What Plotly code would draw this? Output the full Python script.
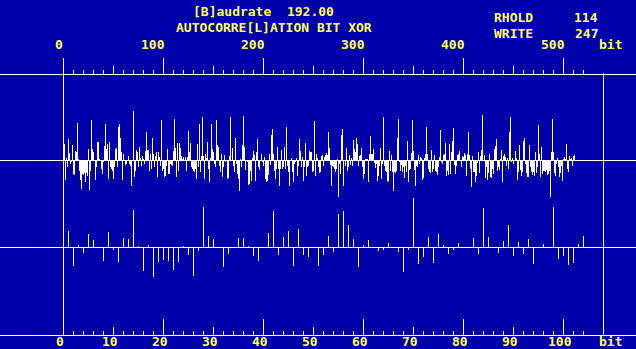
import plotly.graph_objects as go

# ---------------- data ----------------
baud_text = "[B]audrate\u00a0\u00a0192.00"
title_line = "AUTOCORRE[L]ATION BIT XOR"
rhold_value = "114"
write_value = "247"

top_tick_labels = ["0", "100", "200", "300", "400", "500"]
top_tick_values = [0, 100, 200, 300, 400, 500]
bottom_tick_labels = ["0", "10", "20", "30", "40", "50", "60", "70", "80", "90", "100"]
bottom_tick_values = [0, 10, 20, 30, 40, 50, 60, 70, 80, 90, 100]
unit_label = "bit"

# autocorrelation of the bit stream (bits 1..511)
acf_part1 = [17, -19, 3, -6, 22, 8, -3, -1, 16, -13,
             -14, 10, 9, 38, 2, -10, -19, -28, -13, -14,
             -12, -21, -12, -15, 12, -29, -10, 41, 12, 9,
             1, -19, -6, 19, 19, 2, 1, -8, -13, -1,
             15, 37, 12, 17, -18, 19, -6, -8, -10, -18,
             -6, 12, 13, -6, 34, 37, 23, 9, -19, 7,
             1, -4, -3, 0, 5, -3, -5, -25, 0, 50,
             -16, -10, 11, 9, -6, 14, 3, -5, 5, 2,
             -3, 10, 29, 11, 11, -10, 7, -8, 23, 7,
             -6, 5, 9, -16, 9, 4, -5, 41, -10, -8,
             -16, -15]
acf_part2 = [-5, 12, -13, -13, -3, -4, -5, 10, 42, 13,
             -16, 18, -10, 18, 13, 5, 2, 4, 0, 4,
             -10, 4, 30, 9, 18, -6, -8, -10, -11, -8,
             -18, 17, -6, 37, -11, 5, 44, 5, -18, 7,
             3, 19, -8, -21, 3, 37, 12, 9, -3, -6,
             41, 16, 14, -5, -11, 7, -16, -6, 6, -1,
             0, -18, -17, 5, 44, 0, 13, -5, -11, 23,
             -3, -13, -18, -30, 2, -6, 16, 45, 14, -9,
             1, -1, -24, -23, -10, -20, 3, 10, 6, -20,
             9, 22, -6, -9, 0, 7, -1, -5, 4, -18,
             -21, -20, -14]
acf_part3 = [7, -4, 26, 32, 7, -10, -18, -8, 14, -8,
             -25, -8, 11, -8, -6, 14, -8, 34, -5, -11,
             -25, 0, 3, -11, -21, -3, -1, 3, -15, -5,
             22, 10, -6, 4, -20, -6, 18, -15, -6, -5,
             10, 9, 9, -11, -10, 40, -15, 7, 3, -6,
             -12, -11, 5, 6, -5, 4, 6, 8, 6, 29,
             13, -4, -25, -5, -6, -8, -11, -8, 2, -36,
             -3, -13, 26, 32, -25, 0, -5, 13, -10, -6,
             6, -4, 3, -5, 21, 12, 9, 23, 17, -5,
             5, 6, 13, -6, -18, -13, 2, 2, 2, -21,
             7, 25, 7, 7]
acf_part4 = [12, -2, -7, -3, -20, -15, -5, 13, -18, -3,
             44, -5, -10, -11, -21, -20, 10, -10, 6, -11,
             -30, -11, -12, -10, 23, 42, -1, -10, -4, -11,
             -6, -17, -5, -11, 20, -21, -9, -8, 8, 41,
             10, -9, -25, -5, -6, 6, -3, 4, 3, -19,
             -17, 3, 7, 34, 7, -8, -11, -12, 11, -11,
             -8, 6, -10, -11, -14, -6, 4, 31, -1, -3,
             6, 7, 18, -15, -10, -14, 17, -13, 9, 20,
             33, -4, -13, -5, 6, 7, 10, 0, -6, 5,
             4, 8, 6, -15, 7, 29, 6, -8, -26, 5,
             -11, -11, -21, -15]
acf_part5 = [-2, 9, -12, 5, 11, 46, 0, 6, -17, -6,
             -19, -12, 7, -16, -17, -8, -13, 12, 15, 22,
             -10, -6, -9, 2, 11, -21, 5, 7, 4, -5,
             3, -8, 29, 44, -1, 3, -3, 0, 10, 3,
             -19, -11, 16, -9, -15, -11, 20, 23, -3, -12,
             -16, -16, 16, -6, -11, -14, -11, -15, 9, -12,
             -6, 36, 7, -16, 14, -13, -10, -10, -11, -9,
             -14, -13, -10, -36, 9, 42, 9, -12, -15, -3,
             3, -6, -16, -12, -5, -20, 2, 4, 2, 17,
             -8, -11, 5, 2, 3, -5, 5, 6]

# bit XOR correlation (bits 1..104)
xor_values = [17, -18, 3, -5, 14, 8, 1, -13, 16, -2,
              -14, 10, 9, 38, 2, -23, 3, -29, -14, -12,
              -13, -22, -14, 2, -7, -28, -3, 41, 12, 9,
              1, -19, -6, 0, 10, 10, 2, -8, -13, 1,
              15, 37, -7, 11, 17, -18, 19, -7, -9, 0,
              -18, -7, 12, -4, 34, 37, 23, 9, -19, 3,
              8, 0, -3, -2, 5, 0, -4, -24, -2, 50,
              -16, -9, 11, -15, 14, 3, -6, -2, 5, 1,
              0, 10, -6, 40, 11, 0, -5, 7, 23, -8,
              6, -6, 9, -16, 0, 4, 0, 41, -11, -8,
              -17, -15, 4, 12]

acf_values = acf_part1 + acf_part2 + acf_part3 + acf_part4 + acf_part5
acf_bits = list(range(1, len(acf_values) + 1))
xor_bits = list(range(1, len(xor_values) + 1))

top_major = list(range(0, 501, 100))
top_medium = list(range(50, 451, 100))
top_minor = list(range(10, 521, 10))
bot_major = list(range(0, 101, 20))
bot_medium = list(range(10, 91, 20))
bot_minor = list(range(2, 105, 2))
window_end_bits = 540

# ---------------- style ----------------
W, H = 636, 349
BG = "#0000AA"
FG = "#FFFFFF"
TXT = "#FFFF55"
FONT = dict(family="DejaVu Sans Mono", size=13, color=TXT, weight="bold")

X_RANGE = [-63.5, W - 63.5]
X2_RANGE = [-63.5 / 5, (W - 63.5) / 5]
TOP_LINE_Y = 73.5
BOT_LINE_Y = 334.5
MID_ZERO = 160.5
LOW_ZERO = 247.5


def pY(px):
    return 1 - px / H


fig = go.Figure()
fig.add_trace(go.Bar(x=acf_bits, y=acf_values, width=1, xaxis="x", yaxis="y",
                     marker=dict(color=FG, line=dict(width=0)), hoverinfo="skip"))
fig.add_trace(go.Bar(x=xor_bits, y=xor_values, width=0.2, xaxis="x2", yaxis="y2",
                     marker=dict(color=FG, line=dict(width=0)), hoverinfo="skip"))
# empty traces so that the scale axes get drawn
for ax in ("x3", "x4", "x5", "x6"):
    fig.add_trace(go.Scatter(x=[], y=[], xaxis=ax, yaxis="y", mode="lines",
                             hoverinfo="skip"))

hidden = dict(showgrid=False, zeroline=False, showticklabels=False, ticks="", showline=False)


def tick_axis(rng, pos, vals, ln, minor_vals=None, line=True):
    d = dict(range=rng, overlaying="x", anchor="free", position=pos, side="top",
             showline=line, linecolor=FG, linewidth=1, ticks="outside", tickmode="array",
             tickvals=vals, ticklen=ln, tickwidth=1, tickcolor=FG, showticklabels=False,
             showgrid=False, zeroline=False, fixedrange=True)
    if minor_vals is not None:
        d["minor"] = dict(tickmode="array", tickvals=minor_vals, ticks="outside", ticklen=4,
                          tickwidth=1, tickcolor=FG, showgrid=False)
    return d


fig.update_layout(
    width=W, height=H, margin=dict(l=0, r=0, t=0, b=0, pad=0),
    paper_bgcolor=BG, plot_bgcolor=BG, showlegend=False,
    barmode="overlay", bargap=0, bargroupgap=0,
    xaxis=dict(range=X_RANGE, domain=[0, 1], anchor="y", **hidden),
    xaxis2=dict(range=X2_RANGE, overlaying="x", anchor="y2", **hidden),
    xaxis3=tick_axis(X_RANGE, pY(TOP_LINE_Y), top_major, 16, top_minor),
    xaxis4=tick_axis(X_RANGE, pY(TOP_LINE_Y), top_medium, 8, line=False),
    xaxis5=tick_axis(X2_RANGE, pY(BOT_LINE_Y), bot_major, 16, bot_minor),
    xaxis6=tick_axis(X2_RANGE, pY(BOT_LINE_Y), bot_medium, 8, line=False),
    yaxis=dict(range=[MID_ZERO - H, MID_ZERO], domain=[0, 1], anchor="x",
               showgrid=False, showticklabels=False, ticks="", showline=False,
               zeroline=True, zerolinecolor=FG, zerolinewidth=1),
    yaxis2=dict(range=[LOW_ZERO - H, LOW_ZERO], overlaying="y", anchor="x",
                showgrid=False, showticklabels=False, ticks="", showline=False,
                zeroline=True, zerolinecolor=FG, zerolinewidth=1),
)

# boundary lines of the data window
for xb in (0, window_end_bits):
    fig.add_shape(type="line", xref="x", yref="paper", x0=xb, x1=xb,
                  y0=pY(BOT_LINE_Y), y1=pY(TOP_LINE_Y), line=dict(color=FG, width=1))

ann = []
for v, t in zip(top_tick_values, top_tick_labels):
    ann.append(dict(x=v, xref="x", y=pY(45), yref="paper", text=t,
                    xshift=-(3 * len(t) + 2), xanchor="center", yanchor="middle"))
ann.append(dict(x=610 / W, xref="paper", y=pY(45), yref="paper", text=unit_label,
                xanchor="center", yanchor="middle"))
for v, t in zip(bottom_tick_values, bottom_tick_labels):
    ann.append(dict(x=v, xref="x2", y=pY(341), yref="paper", text=t,
                    xshift=-4, xanchor="center", yanchor="middle"))
ann.append(dict(x=610 / W, xref="paper", y=pY(341), yref="paper", text=unit_label,
                xanchor="center", yanchor="middle"))

ann.append(dict(x=263.7 / W, xref="paper", y=pY(11.5), yref="paper", text=baud_text,
                xanchor="center", yanchor="middle"))
ann.append(dict(x=274.2 / W, xref="paper", y=pY(27.5), yref="paper", text=title_line,
                xanchor="center", yanchor="middle"))
ann.append(dict(x=494 / W, xref="paper", y=pY(17.8), yref="paper", text="RHOLD",
                xanchor="left", yanchor="middle"))
ann.append(dict(x=598 / W, xref="paper", y=pY(17.8), yref="paper", text=rhold_value,
                xanchor="right", yanchor="middle"))
ann.append(dict(x=494 / W, xref="paper", y=pY(33.8), yref="paper", text="WRITE",
                xanchor="left", yanchor="middle"))
ann.append(dict(x=598 / W, xref="paper", y=pY(33.8), yref="paper", text=write_value,
                xanchor="right", yanchor="middle"))
for a in ann:
    a["showarrow"] = False
    a["font"] = FONT
    a["borderpad"] = 0
    a["borderwidth"] = 0
fig.update_layout(annotations=ann)

fig.write_html("out.html", config={"displayModeBar": False, "staticPlot": True})
